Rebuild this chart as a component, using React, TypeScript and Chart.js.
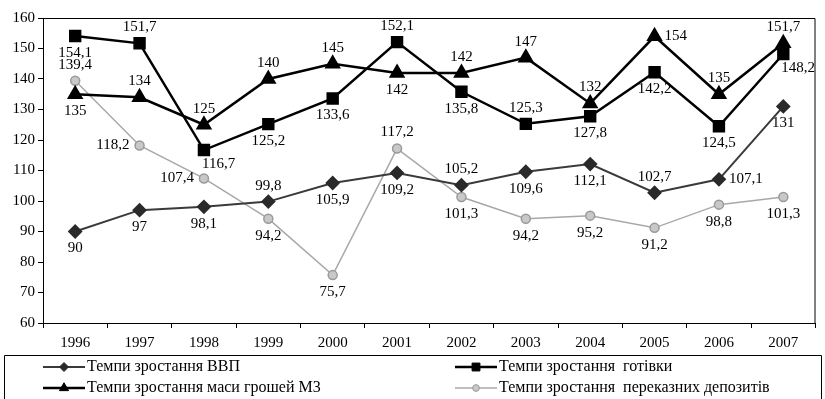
import React, { useEffect, useRef } from "react";
import { Chart, registerables } from "chart.js";

Chart.register(...registerables);

const years = ["1996", "1997", "1998", "1999", "2000", "2001", "2002", "2003", "2004", "2005", "2006", "2007"];
const gdpGrowth = [90, 97, 98.1, 99.8, 105.9, 109.2, 105.2, 109.6, 112.1, 102.7, 107.1, 131];
const cashGrowth = [154.1, 151.7, 116.7, 125.2, 133.6, 152.1, 135.8, 125.3, 127.8, 142.2, 124.5, 148.2];
const m3Growth = [135, 134, 125, 140, 145, 142, 142, 147, 132, 154, 135, 151.7];
const depositGrowth = [139.4, 118.2, 107.4, 94.2, 75.7, 117.2, 101.3, 94.2, 95.2, 91.2, 98.8, 101.3];
const yTicks = [60, 70, 80, 90, 100, 110, 120, 130, 140, 150, 160];

const seriesNames = [
  "Темпи зростання ВВП",
  "Темпи зростання  готівки",
  "Темпи зростання маси грошей М3",
  "Темпи зростання  переказних депозитів",
];

// where each value label sits relative to its point
const gdpLabelSide = ["b", "b", "b", "a", "b", "b", "a", "b", "b", "a", "r", "b"];
const cashLabelSide = ["b", "a", "br", "b", "b", "a", "b", "a", "b", "b", "b", "br"];
const m3LabelSide = ["b", "a", "a", "a", "a", "b", "a", "a", "a", "r", "a", "a"];
const depositLabelSide = ["a", "l", "l", "b", "b", "a", "b", "b", "b", "b", "b", "b"];

const FONT = "Liberation Serif";

const labelSides = [gdpLabelSide, cashLabelSide, m3LabelSide, depositLabelSide];

const valueLabels = {
  id: "valueLabels",
  afterDatasetsDraw(chart: any) {
    const ctx = chart.ctx;
    ctx.save();
    ctx.font = `15px "${FONT}"`;
    ctx.fillStyle = "#000";
    ctx.textBaseline = "middle";
    ctx.textAlign = "center";
    chart.data.datasets.forEach((ds: any, di: number) => {
      const meta = chart.getDatasetMeta(di);
      meta.data.forEach((pt: any, i: number) => {
        const text = String(ds.data[i]).replace(".", ",");
        const w = ctx.measureText(text).width;
        const side = labelSides[di][i];
        let x = pt.x;
        let y = pt.y;
        if (side === "a") y -= 16;
        else if (side === "b") y += 17;
        else if (side === "l") x -= w / 2 + 10;
        else if (side === "r") x += w / 2 + 10;
        else if (side === "br") {
          x += w / 2 - 2;
          y += 14;
        }
        ctx.fillText(text, x, y);
      });
    });
    ctx.restore();
  },
};

function drawMarker(ctx: CanvasRenderingContext2D, style: string, x: number, y: number, r: number, fill: string, stroke: string) {
  ctx.save();
  ctx.fillStyle = fill;
  ctx.strokeStyle = stroke;
  ctx.lineWidth = 1;
  ctx.beginPath();
  if (style === "rect") {
    ctx.rect(x - r * 0.75, y - r * 0.75, r * 1.5, r * 1.5);
  } else if (style === "rectRot") {
    ctx.moveTo(x, y - r);
    ctx.lineTo(x + r, y);
    ctx.lineTo(x, y + r);
    ctx.lineTo(x - r, y);
    ctx.closePath();
  } else if (style === "triangle") {
    ctx.moveTo(x, y - r);
    ctx.lineTo(x + r * 0.87, y + r * 0.5);
    ctx.lineTo(x - r * 0.87, y + r * 0.5);
    ctx.closePath();
  } else {
    ctx.arc(x, y, r, 0, Math.PI * 2);
  }
  ctx.fill();
  ctx.stroke();
  ctx.restore();
}

const frameAndLegend = {
  id: "frameAndLegend",
  afterDraw(chart: any) {
    const ctx = chart.ctx;
    const a = chart.chartArea;
    ctx.save();
    ctx.strokeStyle = "#000";
    ctx.lineWidth = 1;
    ctx.beginPath();
    ctx.moveTo(a.left, a.top + 0.5);
    ctx.lineTo(a.right - 0.5, a.top + 0.5);
    ctx.lineTo(a.right - 0.5, a.bottom);
    ctx.stroke();

    // legend box
    ctx.beginPath();
    ctx.rect(4.5, 355.5, 817, 60);
    ctx.stroke();

    const cols = [43, 455];
    const rows = [367, 388];
    const slots = [
      [0, 0],
      [1, 0],
      [0, 1],
      [1, 1],
    ];
    ctx.font = `16px "${FONT}"`;
    ctx.textBaseline = "middle";
    ctx.textAlign = "left";
    chart.data.datasets.forEach((ds: any, di: number) => {
      const [c, r] = slots[di];
      const x0 = cols[c];
      const y = rows[r];
      ctx.strokeStyle = ds.borderColor;
      ctx.lineWidth = ds.borderWidth;
      ctx.beginPath();
      ctx.moveTo(x0, y);
      ctx.lineTo(x0 + 42, y);
      ctx.stroke();
      drawMarker(ctx, ds.pointStyle, x0 + 21, y, ds.pointRadius * 0.75, ds.pointBackgroundColor, ds.pointBorderColor);
      ctx.fillStyle = "#000";
      ctx.fillText(seriesNames[di], x0 + 44, y);
    });
    ctx.restore();
  },
};

export default function App() {
  const canvasRef = useRef<HTMLCanvasElement | null>(null);

  useEffect(() => {
    document.body.style.margin = "0";
    const canvas = canvasRef.current;
    if (!canvas) return;

    const chart = new Chart(canvas, {
      type: "line",
      data: {
        labels: years,
        datasets: [
          {
            label: seriesNames[0],
            data: gdpGrowth,
            borderColor: "#3a3a3a",
            backgroundColor: "#2a2a2a",
            borderWidth: 2,
            pointStyle: "rectRot",
            pointRadius: 6,
            pointBorderColor: "#2a2a2a",
            pointBackgroundColor: "#2a2a2a",
          },
          {
            label: seriesNames[1],
            data: cashGrowth,
            borderColor: "#000",
            backgroundColor: "#000",
            borderWidth: 2.5,
            pointStyle: "rect",
            pointRadius: 7,
            pointBorderColor: "#000",
            pointBackgroundColor: "#000",
          },
          {
            label: seriesNames[2],
            data: m3Growth,
            borderColor: "#000",
            backgroundColor: "#000",
            borderWidth: 2.5,
            pointStyle: "triangle",
            pointRadius: 7,
            pointBorderColor: "#000",
            pointBackgroundColor: "#000",
          },
          {
            label: seriesNames[3],
            data: depositGrowth,
            borderColor: "#a8a8a8",
            backgroundColor: "#c4c4c4",
            borderWidth: 1.5,
            pointStyle: "circle",
            pointRadius: 4.5,
            pointBorderColor: "#9a9a9a",
            pointBackgroundColor: "#c8c8c8",
          },
        ],
      },
      options: {
        responsive: false,
        animation: false,
        devicePixelRatio: 1,
        layout: { padding: { left: 0, top: 18, right: 7, bottom: 0 } },
        plugins: {
          legend: { display: false },
          tooltip: { enabled: false },
        },
        elements: { line: { tension: 0 } },
        scales: {
          x: {
            offset: true,
            grid: {
              offset: true,
              drawOnChartArea: false,
              drawTicks: true,
              tickLength: 5,
              color: "#000",
            },
            border: { color: "#000", width: 1 },
            ticks: {
              color: "#000",
              font: { family: FONT, size: 15 },
              padding: 6,
              maxRotation: 0,
            },
            afterFit(scale: any) {
              scale.height = 76;
            },
          },
          y: {
            min: 60,
            max: 160,
            afterBuildTicks(scale: any) {
              scale.ticks = yTicks.map((v) => ({ value: v }));
            },
            grid: {
              drawOnChartArea: false,
              drawTicks: true,
              tickLength: 5,
              color: "#000",
            },
            border: { color: "#000", width: 1 },
            ticks: {
              color: "#000",
              font: { family: FONT, size: 15 },
              padding: 3,
            },
            afterFit(scale: any) {
              scale.width = 43;
            },
          },
        },
      },
      plugins: [valueLabels, frameAndLegend],
    });

    return () => {
      chart.destroy();
    };
  }, []);

  return (
    <div style={{ width: 825, height: 399, background: "#fff" }}>
      <canvas ref={canvasRef} width={825} height={399} />
    </div>
  );
}
